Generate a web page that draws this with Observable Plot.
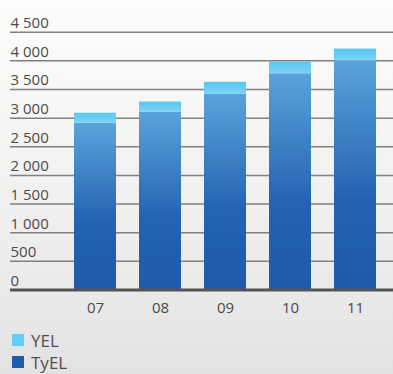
<!DOCTYPE html>
<html>
<head>
<meta charset="utf-8">
<script src="https://cdn.jsdelivr.net/npm/d3@7"></script>
<script src="https://cdn.jsdelivr.net/npm/@observablehq/plot@0.6"></script>
<style>
  html, body { margin: 0; padding: 0; }
  body {
    width: 393px; height: 374px; overflow: hidden;
    background: linear-gradient(to bottom, #fdfdfc 0%, #f6f6f5 30%, #ececec 70%, #e2e2e2 100%);
    font-family: "Open Sans", sans-serif;
  }
  #legend { margin-top: 4px; padding-left: 12px; }
  .item { display: flex; align-items: center; height: 22px; font-size: 17px; line-height: 1; color: #505050; }
  .sw { width: 12px; height: 12px; margin-right: 7px; }
</style>
</head>
<body>
<div id="chart"></div>
<div id="legend"></div>
<script>
const years = ["07", "08", "09", "10", "11"];
const tyel = [2910, 3105, 3415, 3775, 4000];
const yel = [175, 175, 210, 205, 205];
const yTicks = [0, 500, 1000, 1500, 2000, 2500, 3000, 3500, 4000, 4500];
const yTickLabels = ["0", "500", "1 000", "1 500", "2 000", "2 500", "3 000", "3 500", "4 000", "4 500"];
const seriesNames = ["YEL", "TyEL"];
const seriesColors = ["#62cdf7", "#1f5dab"];

const rows = [];
years.forEach((y, i) => {
  rows.push({year: y, series: "TyEL", value: tyel[i]});
  rows.push({year: y, series: "YEL", value: yel[i]});
});
const ticks = yTicks.map((v, i) => ({v, label: yTickLabels[i]}));

const defs = () => {
  const ns = "http://www.w3.org/2000/svg";
  const d = document.createElementNS(ns, "defs");
  d.innerHTML = `
    <linearGradient id="gTy" x1="0" y1="0" x2="0" y2="1">
      <stop offset="0" stop-color="#5ba3db"/>
      <stop offset="0.6" stop-color="#2363b2"/>
      <stop offset="1" stop-color="#1e5aa8"/>
    </linearGradient>
    <linearGradient id="gYel" x1="0" y1="0" x2="0" y2="1">
      <stop offset="0" stop-color="#58c6f2"/>
      <stop offset="1" stop-color="#7cd3f6"/>
    </linearGradient>`;
  return d;
};

const plot = Plot.plot({
  width: 393,
  height: 325,
  marginLeft: 10,
  marginRight: 0,
  marginTop: 0,
  marginBottom: 0,
  style: {background: "transparent", fontFamily: "Open Sans, sans-serif"},
  x: {domain: years, range: [72, 378], paddingInner: 0.36, paddingOuter: 0, axis: null},
  y: {domain: [0, 4500], range: [289.5, 31.7], axis: null},
  marks: [
    defs,
    Plot.ruleY(yTicks.filter(v => v > 0), {stroke: "#808080", strokeWidth: 1.5}),
    Plot.barY(rows, Plot.stackY({
      x: "year", y: "value", z: "series", order: ["TyEL", "YEL"],
      fill: d => d.series === "TyEL" ? "url(#gTy)" : "url(#gYel)"
    })),
    Plot.ruleY([0], {stroke: "#555", strokeWidth: 3}),
    Plot.text(ticks, {y: "v", text: "label", frameAnchor: "left", textAnchor: "start", dy: -9, fontSize: 15, fill: "#4a4a4a"}),
    Plot.text(years, {x: d => d, y: () => 0, text: d => d, dy: 18, fontSize: 15, fill: "#4a4a4a"})
  ]
});
document.getElementById("chart").appendChild(plot);

const legend = document.getElementById("legend");
seriesNames.forEach((name, i) => {
  const it = document.createElement("div");
  it.className = "item";
  const sw = document.createElement("span");
  sw.className = "sw";
  sw.style.background = seriesColors[i];
  const t = document.createElement("span");
  t.textContent = name;
  it.appendChild(sw); it.appendChild(t);
  legend.appendChild(it);
});
</script>
</body>
</html>
